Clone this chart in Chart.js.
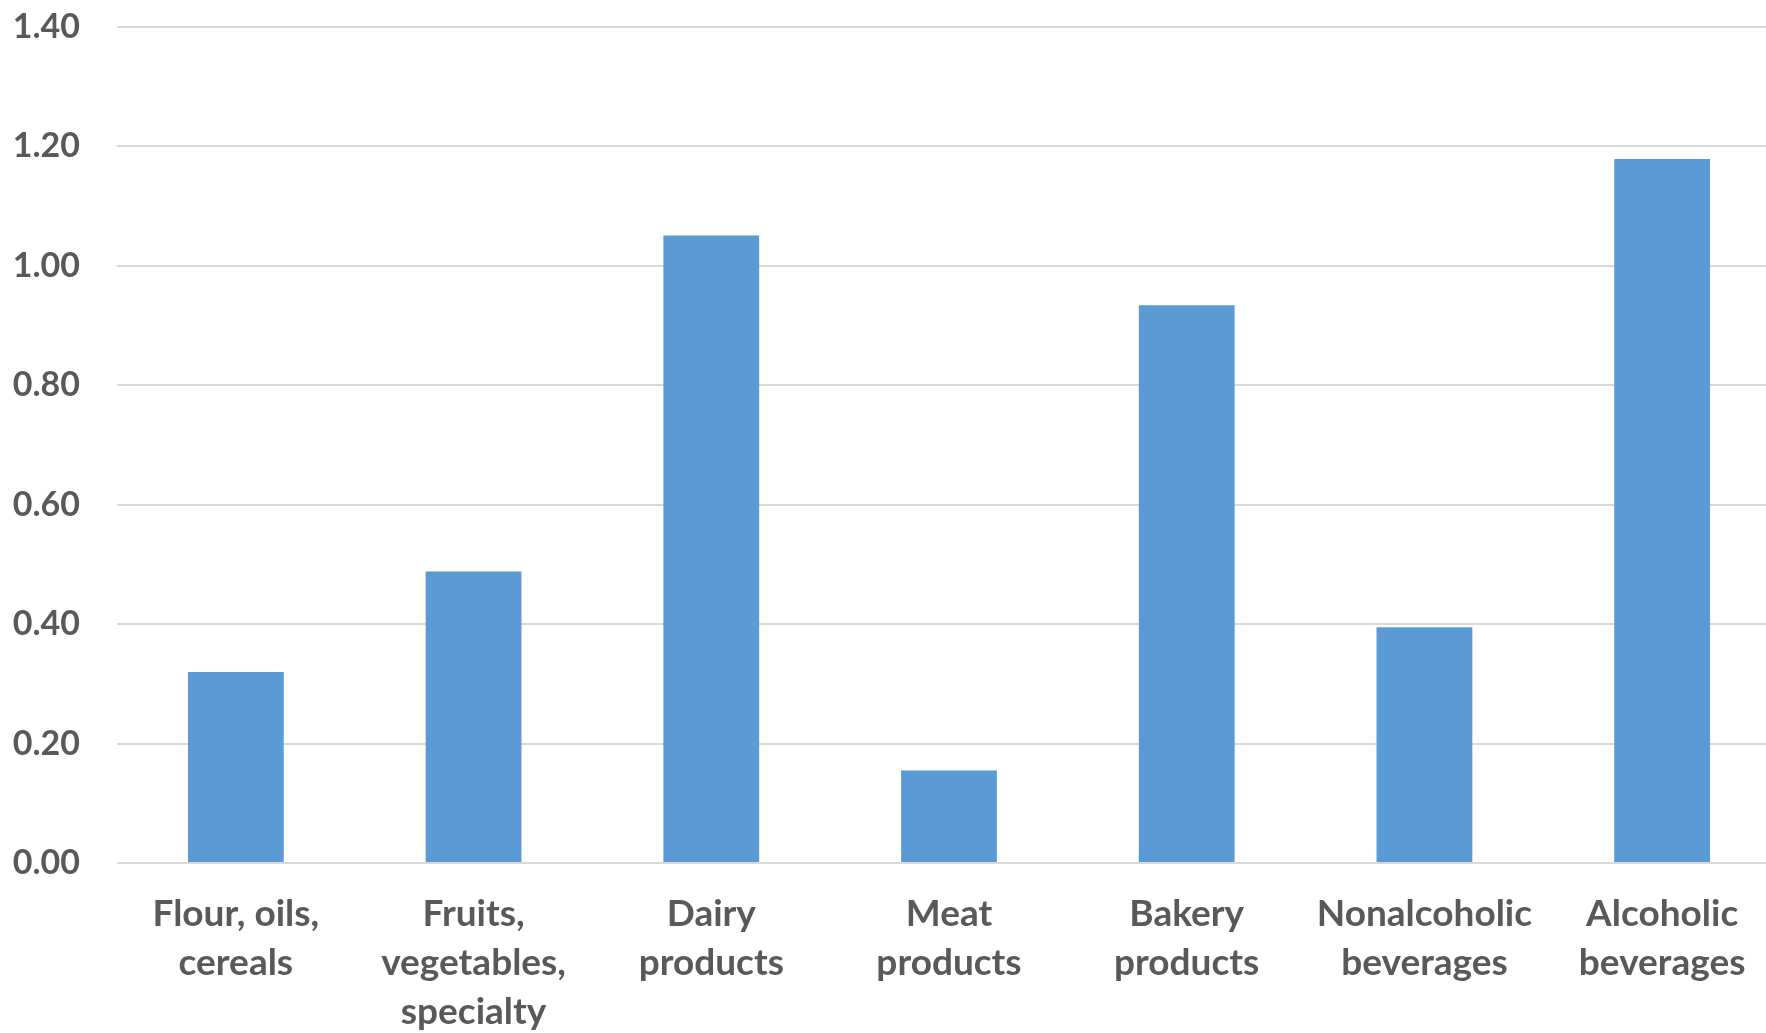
<!DOCTYPE html>
<html>
<head>
<meta charset="utf-8">
<script src="https://cdn.jsdelivr.net/npm/chart.js@4"></script>
<style>
  html, body { margin: 0; padding: 0; background: #ffffff; overflow: hidden; }
  #wrap { width: 1766px; height: 1033px; overflow: hidden; }
</style>
</head>
<body>
<!-- canvas is a bit wider than the page: the original plot area runs past the right edge -->
<div id="wrap"><canvas id="myChart" width="1781" height="1033"></canvas></div>
<script>
// Chart data
const categories = [
    ['Flour, oils,', 'cereals'],
    ['Fruits,', 'vegetables,', 'specialty'],
    ['Dairy', 'products'],
    ['Meat', 'products'],
    ['Bakery', 'products'],
    ['Nonalcoholic', 'beverages'],
    ['Alcoholic', 'beverages']
];
const values = [0.32, 0.488, 1.051, 0.155, 0.934, 0.395, 1.179];
const yTicks = [0, 0.2, 0.4, 0.6, 0.8, 1.0, 1.2, 1.4];

const textColor = '#595959';
const gridColor = '#d9d9d9';

var ctx = document.getElementById('myChart').getContext('2d');

var myChart = new Chart(ctx, {
    type: 'bar',
    data: {
        labels: categories,
        datasets: [{
            data: values,
            backgroundColor: '#5b9bd5',
            borderWidth: 0,
            categoryPercentage: 1.0,
            barPercentage: 0.403
        }]
    },
    options: {
        responsive: false,
        animation: false,
        layout: {
            padding: { top: 27, left: 0, right: 0, bottom: 0 }
        },
        plugins: {
            legend: { display: false },
            tooltip: { enabled: false }
        },
        scales: {
            x: {
                grid: { display: false, drawTicks: false },
                border: { display: false },
                ticks: {
                    color: textColor,
                    padding: 27,
                    maxRotation: 0,
                    autoSkip: false,
                    font: { family: 'Lato', size: 37, weight: 'bold', lineHeight: '49px' }
                },
                afterFit: function(axis) {
                    axis.height = 170;
                    axis.paddingLeft = 0;
                    axis.paddingRight = 0;
                }
            },
            y: {
                min: 0,
                max: 1.4,
                afterBuildTicks: function(axis) {
                    axis.ticks = yTicks.map(v => ({ value: v }));
                },
                grid: { color: gridColor, lineWidth: 2, drawTicks: false },
                border: { display: false },
                ticks: {
                    color: textColor,
                    padding: 37,
                    font: { family: 'Lato', size: 34, weight: 'bold' },
                    callback: function(v) { return Number(v).toFixed(2); }
                },
                afterFit: function(axis) {
                    axis.width = 117;
                    axis.paddingTop = 0;
                    axis.paddingBottom = 0;
                }
            }
        }
    }
});
</script>
</body>
</html>
